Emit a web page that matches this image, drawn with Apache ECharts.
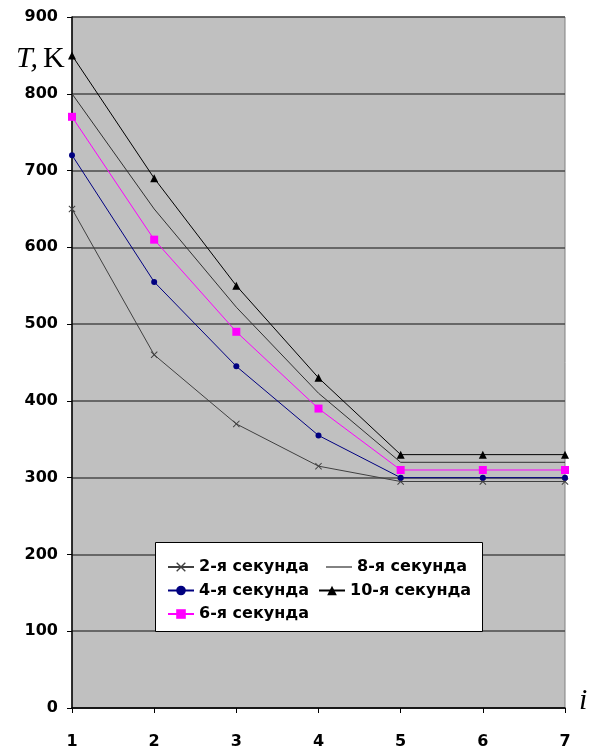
<!DOCTYPE html>
<html>
<head>
<meta charset="utf-8">
<script src="https://cdn.jsdelivr.net/npm/echarts@6/dist/echarts.min.js"></script>
<style>
  html, body { margin: 0; padding: 0; background: #fff; }
  #chart { width: 593px; height: 751px; }
</style>
</head>
<body>
<div id="chart"></div>
<script>
var steps = ['1', '2', '3', '4', '5', '6', '7'];
var sec2 = [650, 460, 370, 315, 295, 295, 295];
var sec4 = [720, 555, 445, 355, 300, 300, 300];
var sec6 = [770, 610, 490, 390, 310, 310, 310];
var sec8 = [800, 650, 522, 410, 320, 320, 320];
var sec10 = [850, 690, 550, 430, 330, 330, 330];
var yTicks = [0, 100, 200, 300, 400, 500, 600, 700, 800, 900];

(function(){
    var myChart = echarts.init(document.getElementById('chart'));
    var crossPath = 'path://M0,1L1,0L5,4L9,0L10,1L6,5L10,9L9,10L5,6L1,10L0,9L4,5Z';
    var labelFont = 'DejaVu Sans, Liberation Sans, sans-serif';
    var legendText = {
        color: '#000',
        fontFamily: labelFont,
        fontWeight: 'bold',
        fontSize: 16
    };
    function legendCol(left, top, names) {
        return {
            z: 10,
            orient: 'vertical',
            left: left,
            top: top,
            itemWidth: 26,
            itemHeight: 12,
            itemGap: 7.5,
            textStyle: legendText,
            data: names
        };
    }
    var option = {
        animation: false,
        title: {
            text: '{i|T,} {n|K}',
            left: 11,
            top: 39,
            textStyle: {
                fontWeight: 'normal',
                rich: {
                    i: { fontFamily: 'Liberation Serif, serif', fontStyle: 'italic', fontWeight: 'normal', fontSize: 30, color: '#000' },
                    n: { fontFamily: 'Liberation Serif, serif', fontWeight: 'normal', fontSize: 30, color: '#000' }
                }
            }
        },
        graphic: [
            {
                type: 'rect',
                z: 5,
                shape: { x: 155.5, y: 542.5, width: 327, height: 89 },
                style: { fill: '#fff', stroke: '#000', lineWidth: 1 }
            },
            {
                type: 'text',
                left: 579,
                top: 686,
                style: { text: 'i', font: 'italic 30px "Liberation Serif", serif', fill: '#000' }
            }
        ],
        legend: [
            legendCol(162, 554, ['2-я секунда', '4-я секунда', '6-я секунда']),
            legendCol(321, 554, [{ name: '8-я секунда', icon: 'path://M0,0L30,0L30,1.4L0,1.4Z' }]),
            legendCol(313, 577.5, ['10-я секунда'])
        ],
        grid: {
            left: 72,
            right: 28,
            top: 17,
            bottom: 43,
            show: true,
            backgroundColor: '#c0c0c0',
            borderColor: '#808080',
            borderWidth: 1
        },
        xAxis: {
            type: 'category',
            boundaryGap: false,
            data: steps,
            axisLine: { lineStyle: { color: '#000', width: 1.5 } },
            axisTick: { show: true, length: 5, lineStyle: { color: '#000' } },
            axisLabel: {
                margin: 26,
                color: '#000',
                fontFamily: labelFont,
                fontWeight: 'bold',
                fontSize: 16
            },
            splitLine: { show: false }
        },
        yAxis: {
            type: 'value',
            min: yTicks[0],
            max: yTicks[yTicks.length - 1],
            interval: 100,
            axisLine: { show: true, lineStyle: { color: '#000', width: 1.5 } },
            axisTick: { show: true, length: 5, lineStyle: { color: '#000' } },
            axisLabel: {
                margin: 14,
                color: '#000',
                fontFamily: labelFont,
                fontWeight: 'bold',
                fontSize: 16
            },
            splitLine: { show: true, lineStyle: { color: '#4a4a4a', width: 1.5 } }
        },
        series: [
            {
                name: '2-я секунда',
                type: 'line',
                data: sec2,
                symbol: crossPath,
                symbolSize: 7,
                lineStyle: { color: '#404040', width: 1 },
                itemStyle: { color: '#404040' }
            },
            {
                name: '4-я секунда',
                type: 'line',
                data: sec4,
                symbol: 'circle',
                symbolSize: 6,
                lineStyle: { color: '#000080', width: 1 },
                itemStyle: { color: '#000080' }
            },
            {
                name: '6-я секунда',
                type: 'line',
                data: sec6,
                symbol: 'rect',
                symbolSize: 8,
                lineStyle: { color: '#ff00ff', width: 1 },
                itemStyle: { color: '#ff00ff' }
            },
            {
                name: '8-я секунда',
                type: 'line',
                data: sec8,
                symbol: 'none',
                lineStyle: { color: '#303030', width: 1 },
                itemStyle: { color: '#303030' }
            },
            {
                name: '10-я секунда',
                type: 'line',
                data: sec10,
                symbol: 'triangle',
                symbolSize: 8,
                lineStyle: { color: '#000', width: 1 },
                itemStyle: { color: '#000' }
            }
        ]
    };
    myChart.setOption(option);
    window.addEventListener('resize', function(){
        myChart.resize();
    });
})();
</script>
</body>
</html>
